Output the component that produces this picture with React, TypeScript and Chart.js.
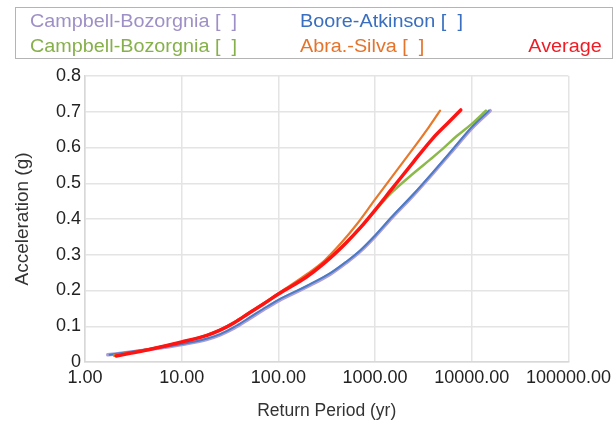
import React, { useEffect, useRef } from "react";
import { Chart, registerables } from "chart.js";

Chart.register(...registerables);

// Tick values
const xTickValues = [1, 10, 100, 1000, 10000, 100000];
const yMin = 0;
const yMax = 0.8;
const yStep = 0.1;

// Campbell-Bozorgnia (lavender)
const cb1Period = [1.72, 3, 5, 10, 18, 25, 35, 50, 70, 100, 200, 350, 500, 700, 1000, 1500, 2500, 4000, 6000, 10000, 15500];
const cb1Accel = [0.02, 0.028, 0.036, 0.049, 0.063, 0.076, 0.095, 0.121, 0.146, 0.171, 0.211, 0.247, 0.277, 0.309, 0.351, 0.404, 0.467, 0.529, 0.584, 0.654, 0.703];

// Boore-Atkinson (blue)
const baPeriod = [1.8, 3, 5, 10, 18, 25, 35, 50, 70, 100, 200, 350, 500, 700, 1000, 1500, 2500, 4000, 6000, 10000, 15000];
const baAccel = [0.02, 0.029, 0.037, 0.05, 0.065, 0.078, 0.098, 0.124, 0.149, 0.174, 0.214, 0.25, 0.28, 0.312, 0.354, 0.407, 0.47, 0.532, 0.587, 0.657, 0.703];

// Campbell-Bozorgnia (green)
const cb2Period = [2, 3, 5, 10, 18, 25, 35, 50, 70, 100, 200, 340, 500, 700, 1000, 1500, 2500, 3700, 5000, 7000, 10000, 14000];
const cb2Accel = [0.018, 0.026, 0.038, 0.056, 0.075, 0.09, 0.111, 0.138, 0.163, 0.191, 0.242, 0.29, 0.333, 0.374, 0.423, 0.475, 0.528, 0.566, 0.596, 0.632, 0.666, 0.703];

// Abra.-Silva (orange)
const asPeriod = [2, 3, 5, 10, 18, 25, 35, 50, 70, 100, 200, 300, 450, 650, 1000, 1700, 2740, 3600, 4700];
const asAccel = [0.018, 0.026, 0.038, 0.056, 0.075, 0.091, 0.112, 0.139, 0.164, 0.192, 0.247, 0.284, 0.334, 0.386, 0.455, 0.538, 0.613, 0.657, 0.703];

// Average (red)
const avgPeriod = [2.1, 3, 5, 10, 18, 25, 35, 50, 70, 100, 200, 340, 500, 700, 1000, 1500, 2500, 4000, 5500, 7700];
const avgAccel = [0.017, 0.025, 0.037, 0.056, 0.074, 0.089, 0.11, 0.137, 0.162, 0.19, 0.24, 0.29, 0.333, 0.375, 0.425, 0.485, 0.56, 0.627, 0.665, 0.705];

const FONT = '"Liberation Sans", Arial, sans-serif';

const legendItems = [
  { text: "Campbell-Bozorgnia [  ]", color: "#9e90c6", left: 30, top: 21 },
  { text: "Boore-Atkinson [  ]", color: "#3a6fbf", left: 300, top: 21 },
  { text: "Campbell-Bozorgnia [  ]", color: "#86b04a", left: 30, top: 45.5 },
  { text: "Abra.-Silva [  ]", color: "#e6732a", left: 300, top: 45.5 },
];

function pts(xs: number[], ys: number[]) {
  return xs.map((x, i) => ({ x, y: ys[i] }));
}

export default function App() {
  const ref = useRef<HTMLCanvasElement | null>(null);

  useEffect(() => {
    if (!ref.current) return;
    const chart = new Chart(ref.current, {
      type: "line",
      data: {
        datasets: [
          { label: "Campbell-Bozorgnia [ ]", data: pts(cb1Period, cb1Accel), borderColor: "#ab9dd6", borderWidth: 3.5, order: 4 },
          { label: "Boore-Atkinson [ ]", data: pts(baPeriod, baAccel), borderColor: "#4a7cc6", borderWidth: 2, order: 3 },
          { label: "Campbell-Bozorgnia [ ]", data: pts(cb2Period, cb2Accel), borderColor: "#8cba4a", borderWidth: 2.5, order: 2 },
          { label: "Abra.-Silva [ ]", data: pts(asPeriod, asAccel), borderColor: "#e8782a", borderWidth: 2.2, order: 1 },
          { label: "Average", data: pts(avgPeriod, avgAccel), borderColor: "#ff1414", borderWidth: 3.5, order: 0 },
        ],
      },
      options: {
        animation: false,
        responsive: false,
        elements: {
          point: { radius: 0, hoverRadius: 0 },
          line: { cubicInterpolationMode: "monotone", fill: false, borderCapStyle: "round", borderJoinStyle: "round" },
        },
        layout: { padding: { top: 76, right: 43, left: 0, bottom: 0 } },
        plugins: { legend: { display: false }, tooltip: { enabled: false } },
        scales: {
          x: {
            type: "logarithmic",
            min: 1,
            max: 100000,
            afterBuildTicks: (s: any) => {
              s.ticks = xTickValues.map((v) => ({ value: v }));
            },
            afterFit: (s: any) => {
              s.height = 68;
            },
            ticks: {
              callback: (v: any) => Number(v).toFixed(2),
              font: { family: FONT, size: 18 },
              color: "#222",
              maxRotation: 0,
              autoSkip: false,
              padding: 5,
            },
            grid: { color: "#e4e4e4", drawTicks: false, lineWidth: 1.5 },
            border: { color: "#d8d8d8", width: 1.5 },
            title: {
              display: true,
              text: "Return Period (yr)",
              font: { family: FONT, size: 17.5 },
              color: "#333",
              padding: { top: 0, bottom: 8 },
            },
          },
          y: {
            min: yMin,
            max: yMax,
            afterFit: (s: any) => {
              s.width = 85;
            },
            ticks: {
              stepSize: yStep,
              callback: (v: any) => {
                const r = Math.round(Number(v) * 10) / 10;
                return r === 0 ? "0" : r.toFixed(1);
              },
              font: { family: FONT, size: 18 },
              color: "#222",
              padding: 4,
            },
            grid: { color: "#e4e4e4", drawTicks: false, lineWidth: 1.5 },
            border: { color: "#d8d8d8", width: 1.5 },
            title: {
              display: true,
              text: "Acceleration (g)",
              font: { family: FONT, size: 19 },
              color: "#333",
              padding: { top: 11, bottom: 0 },
            },
          },
        },
      },
    });
    return () => chart.destroy();
  }, []);

  return (
    <div style={{ position: "fixed", left: 0, top: 0, width: 616, height: 430, background: "#fff", overflow: "hidden" }}>
      <canvas ref={ref} width={616} height={430} style={{ position: "absolute", left: 0, top: 0, width: 616, height: 430 }} />
      <div
        style={{
          position: "absolute",
          left: 15,
          top: 7,
          width: 598,
          height: 52,
          border: "1.5px solid #b4b4b4",
          boxSizing: "border-box",
        }}
      />
      {legendItems.map((it, i) => (
        <div
          key={i}
          style={{
            position: "absolute",
            left: it.left,
            top: it.top - 11,
            height: 22,
            lineHeight: "22px",
            fontFamily: FONT,
            fontSize: 18,
            color: it.color,
            whiteSpace: "pre",
            transform: "scaleX(1.1)",
            transformOrigin: "left center",
          }}
        >
          {it.text}
        </div>
      ))}
      <div
        style={{
          position: "absolute",
          right: 14,
          top: 45.5 - 11,
          height: 22,
          lineHeight: "22px",
          fontFamily: FONT,
          fontSize: 18,
          color: "#ee1c25",
          whiteSpace: "pre",
          transform: "scaleX(1.1)",
          transformOrigin: "right center",
        }}
      >
        Average
      </div>
    </div>
  );
}
